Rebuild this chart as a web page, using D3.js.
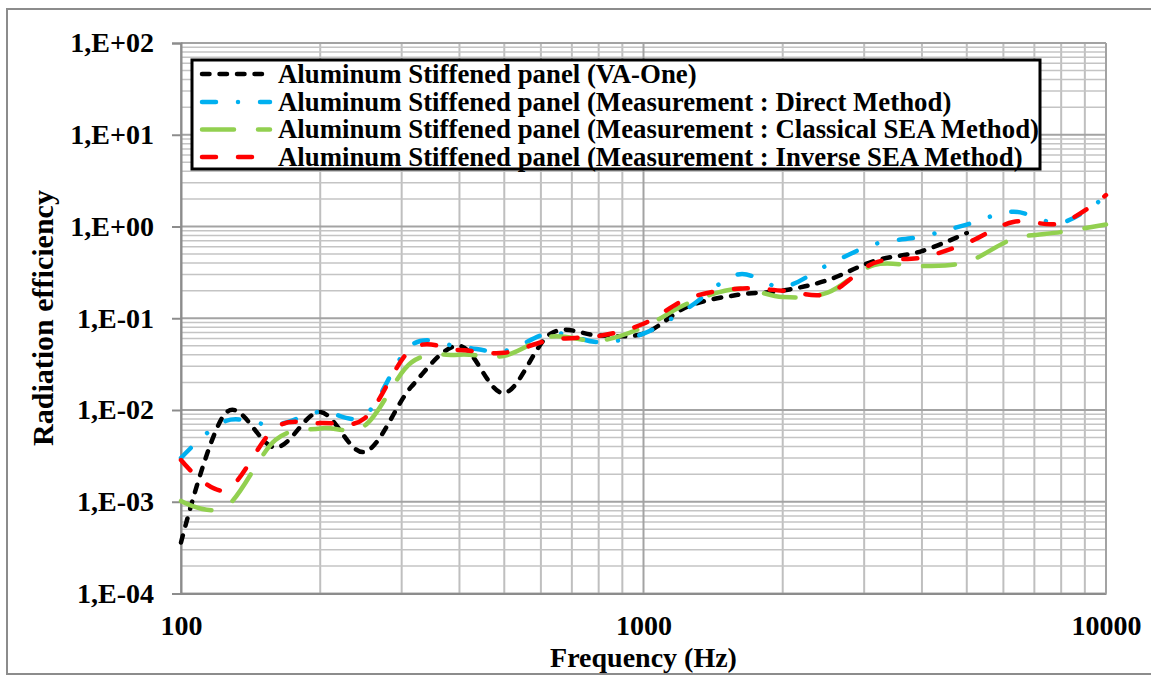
<!DOCTYPE html>
<html>
<head>
<meta charset="utf-8">
<script src="https://cdn.jsdelivr.net/npm/d3@7"></script>
<style>
  html, body { margin: 0; padding: 0; background: #fff; }
  svg { display: block; }
  text { font-family: "Liberation Serif", "Times New Roman", serif; font-weight: bold; fill: #000; }
</style>
</head>
<body>
<svg id="chart" width="1151" height="675"></svg>
<script>
// One-third octave band centre frequencies (Hz)
const freqs = [100, 125, 160, 200, 250, 315, 400, 500, 630, 800, 1000,
               1250, 1600, 2000, 2500, 3150, 4000, 5000, 6300, 8000, 10000];

// Radiation efficiency per band
const vaOne = [0.00036, 0.0093, 0.0039, 0.0095, 0.0035, 0.018, 0.050, 0.0153, 0.068, 0.065, 0.068,
               0.135, 0.18, 0.20, 0.26, 0.42, 0.54, 0.85];
const direct = [0.0030, 0.0076, 0.0069, 0.0096, 0.0088, 0.051, 0.049, 0.044, 0.069, 0.055, 0.068,
                0.13, 0.30, 0.22, 0.38, 0.64, 0.78, 1.05, 1.45, 1.1, 2.15];
const classical = [0.00102, 0.00088, 0.0047, 0.0063, 0.0068, 0.033, 0.040, 0.039, 0.063, 0.057, 0.080,
                   0.146, 0.21, 0.17, 0.19, 0.38, 0.37, 0.41, 0.73, 0.87, 1.05];
const inverse = [0.00285, 0.00134, 0.0064, 0.0072, 0.0082, 0.046, 0.045, 0.042, 0.058, 0.064, 0.087,
                 0.165, 0.21, 0.20, 0.185, 0.40, 0.46, 0.66, 1.12, 1.09, 2.2];

const seriesNames = [
  "Aluminum Stiffened panel (VA-One)",
  "Aluminum Stiffened panel (Measurement : Direct Method)",
  "Aluminum Stiffened panel (Measurement : Classical SEA Method)",
  "Aluminum Stiffened panel (Measurement : Inverse SEA Method)"
];
const xTickValues = [100, 1000, 10000];
const yTickValues = [1e-4, 1e-3, 1e-2, 1e-1, 1e0, 1e1, 1e2];
const xTitle = "Frequency (Hz)";
const yTitle = "Radiation efficiency";

// Line appearance for each series
const styles = [
  { color: "#000000", dash: "7.5 10" },
  { color: "#00b0f0", dash: "14 22 0.01 22" },
  { color: "#92d050", dash: "32 24" },
  { color: "#ff0000", dash: "14 22" }
];
const seriesValues = [vaOne, direct, classical, inverse];

const svg = d3.select("#chart");
const W = 1151;
const plot = { left: 181, right: 1106, top: 43, bottom: 593.5 };

// Outer chart frame
svg.append("rect")
  .attr("x", 7).attr("y", 9).attr("width", W + 10).attr("height", 665)
  .attr("fill", "#fff").attr("stroke", "#8c8c8c").attr("stroke-width", 2);

const x = d3.scaleLog().domain([100, 10000]).range([plot.left, plot.right]);
const y = d3.scaleLog().domain([1e-4, 1e2]).range([plot.bottom, plot.top]);

const isMajor = v => Math.abs(Math.log10(v) - Math.round(Math.log10(v))) < 1e-9;

// Grid: minor (2..9) and major (decades) lines
const grid = svg.append("g");
const xGrid = x.ticks();
const yGrid = y.ticks();
grid.selectAll("line.gx").data(xGrid.filter(v => !isMajor(v))).join("line")
  .attr("x1", d => x(d)).attr("x2", d => x(d))
  .attr("y1", plot.top).attr("y2", plot.bottom)
  .attr("stroke", "#bfbfbf").attr("stroke-width", 2);
grid.selectAll("line.gy").data(yGrid.filter(v => !isMajor(v))).join("line")
  .attr("x1", plot.left).attr("x2", plot.right)
  .attr("y1", d => y(d)).attr("y2", d => y(d))
  .attr("stroke", "#c4c4c4").attr("stroke-width", 1.5);
grid.selectAll("line.mx").data(xGrid.filter(isMajor)).join("line")
  .attr("x1", d => x(d)).attr("x2", d => x(d))
  .attr("y1", plot.top).attr("y2", plot.bottom)
  .attr("stroke", "#a3a3a3").attr("stroke-width", 2);
grid.selectAll("line.my").data(yGrid.filter(isMajor)).join("line")
  .attr("x1", plot.left).attr("x2", plot.right)
  .attr("y1", d => y(d)).attr("y2", d => y(d))
  .attr("stroke", "#a3a3a3").attr("stroke-width", 2);

// Axes
const fmtExp = v => {
  const e = Math.round(Math.log10(v));
  return "1,E" + (e < 0 ? "-" : "+") + String(Math.abs(e)).padStart(2, "0");
};
const yAxis = svg.append("g")
  .attr("transform", `translate(${plot.left},0)`)
  .call(d3.axisLeft(y).tickValues(yTickValues).tickFormat(fmtExp).tickSize(9).tickPadding(18));
yAxis.select(".domain").attr("stroke", "#8c8c8c").attr("stroke-width", 2);
yAxis.selectAll(".tick line").attr("stroke", "#8c8c8c").attr("stroke-width", 2);
yAxis.selectAll(".tick text").style("font-size", "28px")
  .style("font-family", "'Liberation Serif', 'Times New Roman', serif").style("font-weight", "bold").attr("fill", "#000");

const xAxis = svg.append("g")
  .attr("transform", `translate(0,${plot.bottom})`)
  .call(d3.axisBottom(x).tickValues(xTickValues).tickFormat(d3.format("d")).tickSize(0).tickPadding(21.5));
xAxis.select(".domain").attr("stroke", "#8c8c8c").attr("stroke-width", 2);
xAxis.selectAll(".tick text").style("font-size", "28px")
  .style("font-family", "'Liberation Serif', 'Times New Roman', serif").style("font-weight", "bold").attr("fill", "#000");

// Right border of the plot area
svg.append("line")
  .attr("x1", plot.right).attr("x2", plot.right).attr("y1", plot.top).attr("y2", plot.bottom)
  .attr("stroke", "#a3a3a3").attr("stroke-width", 2);

// Axis titles
svg.append("text")
  .attr("x", (plot.left + plot.right) / 2).attr("y", 667)
  .attr("text-anchor", "middle").style("font-size", "28px").text(xTitle);
svg.append("text")
  .attr("transform", "translate(53,318) rotate(-90)")
  .attr("text-anchor", "middle").style("font-size", "30px").text(yTitle);

// Smoothed series lines
const line = d3.line()
  .x(d => x(d.f)).y(d => y(d.v))
  .curve(d3.curveCardinal.tension(0));
seriesValues.forEach((vals, i) => {
  const pts = vals.map((v, j) => ({ f: freqs[j], v }));
  svg.append("path")
    .datum(pts)
    .attr("d", line)
    .attr("fill", "none")
    .attr("stroke", styles[i].color)
    .attr("stroke-width", 4.5)
    .attr("stroke-linecap", "round")
    .attr("stroke-linejoin", "round")
    .attr("stroke-dasharray", styles[i].dash);
});

// Legend
const legend = svg.append("g");
legend.append("rect")
  .attr("x", 192).attr("y", 60).attr("width", 848).attr("height", 109)
  .attr("fill", "#fff").attr("stroke", "#000").attr("stroke-width", 3);
const rowY = [74, 102, 129.5, 157];
seriesNames.forEach((name, i) => {
  legend.append("line")
    .attr("x1", 202).attr("x2", 270).attr("y1", rowY[i]).attr("y2", rowY[i])
    .attr("stroke", styles[i].color).attr("stroke-width", 4.5)
    .attr("stroke-linecap", "round").attr("stroke-dasharray", styles[i].dash);
  legend.append("text")
    .attr("x", 278).attr("y", rowY[i]).attr("dy", "0.33em")
    .style("font-size", "26.8px").text(name);
});
</script>
</body>
</html>
